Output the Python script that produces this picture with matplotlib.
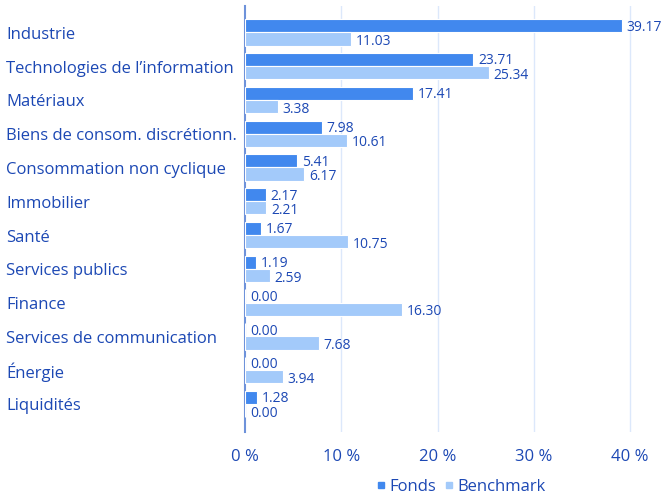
import matplotlib
matplotlib.use("Agg")
import matplotlib.pyplot as plt
import numpy as np

categories = ["Industrie", "Technologies de l\u2019information", "Matériaux",
              "Biens de consom. discrétionn.", "Consommation non cyclique",
              "Immobilier", "Santé", "Services publics", "Finance",
              "Services de communication", "Énergie", "Liquidités"]
fonds = [39.17, 23.71, 17.41, 7.98, 5.41, 2.17, 1.67, 1.19, 0.00, 0.00, 0.00, 1.28]
benchmark = [11.03, 25.34, 3.38, 10.61, 6.17, 2.21, 10.75, 2.59, 16.30, 7.68, 3.94, 0.00]
xticks = [0, 10, 20, 30, 40]
xticklabels = ["0 %", "10 %", "20 %", "30 %", "40 %"]
series_names = ["Fonds", "Benchmark"]

c_fonds = "#4188EE"
c_bench = "#A3CAFA"
c_text = "#1C48B4"
c_grid = "#DCE8FB"
c_axis = "#6E92DA"

plt.rcParams['font.family'] = ['Open Sans', 'DejaVu Sans']

W, H = 670, 496
fig = plt.figure(figsize=(W/100, H/100), dpi=100)
x0_px, x40_px = 245, 630
top_px, bot_px = 6, 432
right_px = 660
ax = fig.add_axes([x0_px/W, 1 - bot_px/H, (right_px - x0_px)/W, (bot_px - top_px)/H])
px_per = (x40_px - x0_px) / 40.0
ax.set_xlim(0, (right_px - x0_px) / px_per)

n = len(categories)
y = np.arange(n)
bh = 0.39
ax.barh(y - bh/2, fonds, height=bh, color=c_fonds, edgecolor="white", linewidth=0.8, zorder=3)
ax.barh(y + bh/2, benchmark, height=bh, color=c_bench, edgecolor="white", linewidth=0.8, zorder=3)
ax.set_ylim(n - 0.5 + 0.33, -0.5 - 0.28)

for i in range(n):
    ax.text(fonds[i] + 0.5, y[i] - bh/2 - 0.02, f"{fonds[i]:.2f}", va="center_baseline", ha="left",
            fontsize=10, color=c_text, zorder=4)
    ax.text(benchmark[i] + 0.5, y[i] + bh/2 + 0.02, f"{benchmark[i]:.2f}", va="center_baseline", ha="left",
            fontsize=10, color=c_text, zorder=4)

ax.set_xticks(xticks)
ax.set_xticklabels(xticklabels, fontsize=12, color=c_text)
ax.tick_params(axis="x", length=0, pad=12)
ax.set_yticks([])
for x in xticks[1:]:
    ax.axvline(x, color=c_grid, linewidth=1, zorder=1)
for s in ["top", "right", "bottom"]:
    ax.spines[s].set_visible(False)
ax.spines["left"].set_color(c_axis)
ax.spines["left"].set_linewidth(1.5)

for i, c in enumerate(categories):
    yy = ax.transData.transform((0, y[i]))[1] - 2.5
    fig.text(6/W, yy / fig.dpi / (H/100), c, ha="left", va="center", fontsize=12, color=c_text)

from matplotlib.lines import Line2D
handles = [Line2D([], [], marker="s", linestyle="", markersize=4, color=c_fonds),
           Line2D([], [], marker="s", linestyle="", markersize=4, color=c_bench)]
fig.legend(handles, series_names, loc="center", bbox_to_anchor=(460/W, 1 - 487/H),
           ncol=2, frameon=False, fontsize=12, labelcolor=c_text,
           handletextpad=0.1, columnspacing=0.4, handlelength=0.8)

fig.savefig("out.png", dpi=100)
